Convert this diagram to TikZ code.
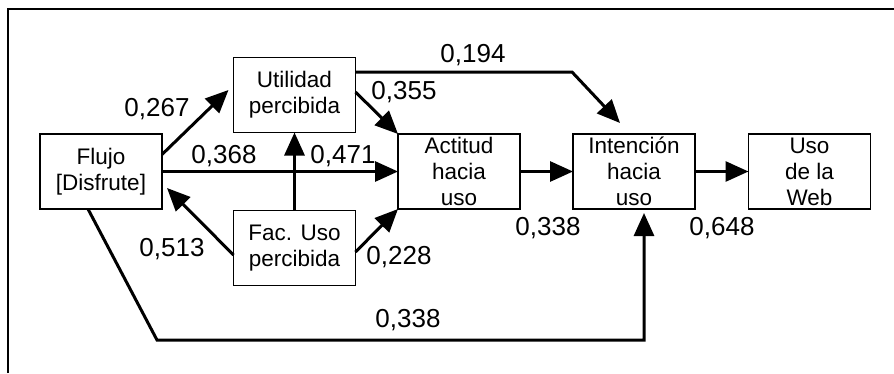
\documentclass[tikz,border=0pt]{standalone}
\usepackage{fontspec}
\setmainfont{Liberation Sans}
\usetikzlibrary{arrows.meta,positioning}

\begin{document}
\begin{tikzpicture}[
x=1pt, y=-1pt,
    X/.style = {rectangle, draw, line width=1.8pt,% styles of the boxes
                minimum width=122pt, minimum height=75pt,
                inner sep=0pt, outer sep=0pt, align=center,
                font=\fontsize{22.5}{26}\selectfont},
    A/.style = {line width=3pt, line join=miter,% styles of the paths
                -{Triangle[length=23pt,width=20pt]}},
    N/.style = {inner sep=0pt, font=\fontsize{26}{28}\selectfont},
                        ]
\useasboundingbox (0,0) rectangle (894,373);
\draw[line width=1.5pt] (8,373) -- (8,9) -- (894,9);
% boxes
\node[X] (flujo) at (101,171.5) {Flujo\\{[Disfrute]}};
\node[X] (util)  at (294.5,95)  {Utilidad\\percibida};
\node[X] (fac)   at (294.5,248) {Fac. Uso\\percibida};
\node[X] (act)   at (459,171.5) {Actitud\\hacia\\uso};
\node[X] (inten) at (634,171.5) {Intención\\hacia\\uso};
\node[X] (uso)   at (809.5,171.5) {Uso\\de la\\Web};
% paths
\coordinate (b1) at (572,72);
\coordinate (b2) at (157,340);
\coordinate (b3) at (644,340);
\draw[A] ([yshift=17pt]flujo.east) -- ([xshift=-5pt,yshift=5pt]util.west);
\draw[A] (flujo.east) -- (act.west);
\draw[A] (fac.north) -- (util.south);
\draw[A] ([yshift=3pt]util.east) -- (act.north west);
\draw[A] ([yshift=23pt]util.east) -- (b1) -- ([xshift=-14pt,yshift=11pt]inten.north);
\draw[A] ([yshift=-7pt]fac.west) -- ([xshift=5pt,yshift=21pt]flujo.south east);
\draw[A] ([yshift=-4pt]fac.east) -- (act.south west);
\draw[A] (act) -- (inten);
\draw[A] (inten) -- (uso);
\draw[A] ([xshift=-13pt]flujo.south) -- (b2) -- (b3) -- ([xshift=10pt,yshift=-4pt]inten.south);
% values
\node[N] (v1) at (157,109) {0,267};
\node[N] (v2) at (224,156) {0,368};
\node[N] (v3) at (343,156) {0,471};
\node[N] (v4) at (404,92)  {0,355};
\node[N] (v5) at (473,55)  {0,194};
\node[N] (v6) at (172,249) {0,513};
\node[N] (v7) at (399,257) {0,228};
\node[N] (v8) at (548,228) {0,338};
\node[N] (v9) at (722,228) {0,648};
\node[N] (v10) at (408,320) {0,338};
\end{tikzpicture}
\end{document}
